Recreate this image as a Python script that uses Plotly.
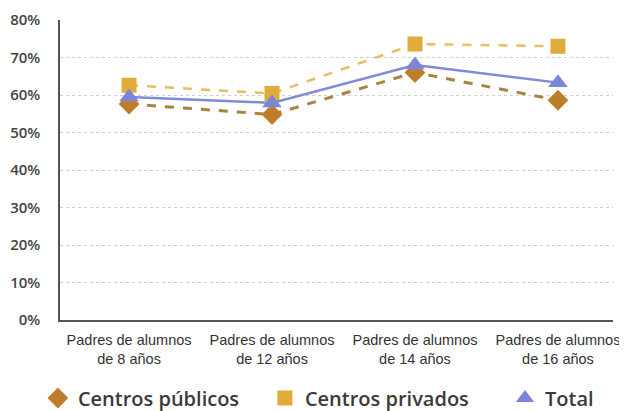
import plotly.graph_objects as go

categories = ["Padres de alumnos<br>de 8 años", "Padres de alumnos<br>de 12 años",
              "Padres de alumnos<br>de 14 años", "Padres de alumnos<br>de 16 años"]
publicos = [57.6, 54.8, 66.0, 58.6]
privados = [62.6, 60.4, 73.6, 73.0]
total = [59.5, 57.9, 68.0, 63.3]
y_ticks = [0, 10, 20, 30, 40, 50, 60, 70, 80]
y_labels = [f"{v}%" for v in y_ticks]
legend_names = ["Centros públicos", "Centros privados", "Total"]

xs = list(range(len(categories)))

series = [
    (legend_names[0], publicos, dict(color="#A8843C", width=3, dash="dash"),
     dict(symbol="diamond", size=16, color="#BE7D2A"), 4),
    (legend_names[1], privados, dict(color="#E4C15E", width=2.5, dash="dash"),
     dict(symbol="square", size=15, color="#E1AB3A"), 6),
    (legend_names[2], total, dict(color="#7F8BD6", width=2.5),
     dict(symbol="triangle-up", size=17, color="#7C86D8"), 0),
]

fig = go.Figure()
for name, vals, line, marker, pad in series:
    fig.add_trace(go.Scatter(x=xs, y=vals, name=name, mode="lines+markers",
                             line=line, marker=marker, showlegend=False))
# legend entries show markers only
for name, vals, line, marker, pad in series:
    fig.add_trace(go.Scatter(x=[None], y=[None], name=name + "\u00a0" * pad, mode="markers",
                             marker=marker, showlegend=True))

fig.update_layout(
    width=619, height=403,
    margin=dict(l=52, r=14, t=12, b=91, autoexpand=False),
    paper_bgcolor="white", plot_bgcolor="white",
    font=dict(family="Open Sans, sans-serif", color="#3a3a3a"),
    legend=dict(orientation="h", x=-0.04, xanchor="left", y=-0.26, yanchor="middle",
                font=dict(size=20, family="Open Sans, sans-serif", weight=600, color="#3a3a3a"),
                itemwidth=30, traceorder="normal"),
)
fig.update_xaxes(
    range=[-0.483, 3.385], tickvals=xs, ticktext=categories,
    showgrid=False, showline=True, linecolor="#555", linewidth=1.5,
    ticks="", zeroline=False, automargin=False, ticklabelstandoff=6,
    tickfont=dict(family="Liberation Sans Narrow, Arial Narrow, sans-serif", size=14.5, color="#333"),
)
fig.update_yaxes(
    range=[0, 80], tickvals=y_ticks, ticktext=y_labels,
    showgrid=True, gridcolor="#cfcfcf", griddash="dot", gridwidth=1,
    showline=True, linecolor="#555", linewidth=1.5, zeroline=False,
    ticks="", ticklabelstandoff=15, automargin=False,
    tickfont=dict(family="Open Sans, sans-serif", size=15, color="#444", weight=600),
)

fig.write_html("out.html")
